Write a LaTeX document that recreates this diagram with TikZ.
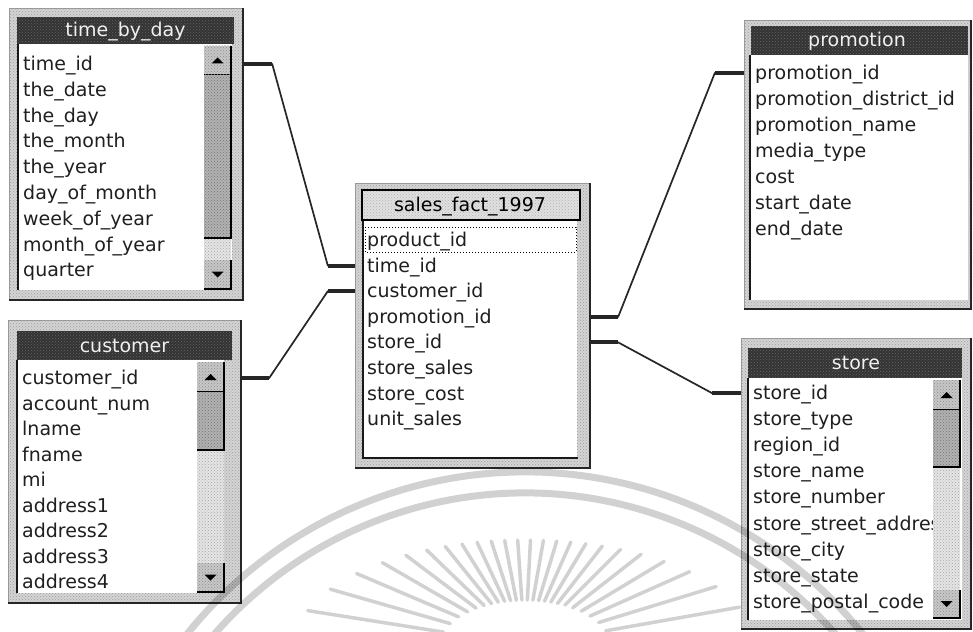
\documentclass[tikz,border=0pt]{standalone}
\usepackage{fontspec}
\setmainfont{DejaVu Sans}
\usetikzlibrary{patterns,fit,calc}
\newcommand\WinBox[5]{%
  \fill[black!17] (#2,#3) rectangle (#4,#5);
  \fill[pattern=crosshatch dots, pattern color=black!38] (#2,#3) rectangle (#4,#5);
  \draw[black!40, line width=0.8pt] (#4,#3) -- (#2,#3) -- (#2,#5);
  \draw[black!85, line width=1.6pt] (#2,#5) -- (#4,#5) -- (#4,#3);
  \node[fit={(#2,#3)(#4,#5)}, inner sep=0pt] (#1) {};}
\newcommand\DarkBar[4]{%
  \fill[black!80] (#1,#2) rectangle (#3,#4);
  \fill[pattern=crosshatch dots, pattern color=black!60] (#1,#2) rectangle (#3,#4);}
\newcommand\ListArea[4]{%
  \fill[white] (#1,#2) rectangle (#3,#4);
  \draw[black!90, line width=2pt] (#1,#4) -- (#1,#2);}
\newcommand\SBar[7]{%
  \fill[black!10] (#1,#3) rectangle (#2,#7);
  \fill[pattern=crosshatch dots, pattern color=black!35] (#1,#3) rectangle (#2,#7);
  % up button
  \fill[black!22] (#1,#3) rectangle (#2,#4);
  \fill[pattern=crosshatch dots, pattern color=black!45] (#1,#3) rectangle (#2,#4);
  \draw[black, line width=1.4pt] (#1,#4) -- (#2,#4) -- (#2,#3);
  \fill[black] ({(#1+#2)/2-6},{(#3+#4)/2+3}) -- ({(#1+#2)/2+6},{(#3+#4)/2+3}) -- ({(#1+#2)/2},{(#3+#4)/2-3}) -- cycle;
  % thumb
  \fill[black!30] (#1,#4) rectangle (#2,#5);
  \fill[pattern=crosshatch dots, pattern color=black!55] (#1,#4) rectangle (#2,#5);
  \draw[black, line width=1.4pt] (#1,#5) -- (#2,#5) -- (#2,#4);
  % down button
  \fill[black!22] (#1,#6) rectangle (#2,#7);
  \fill[pattern=crosshatch dots, pattern color=black!45] (#1,#6) rectangle (#2,#7);
  \draw[black, line width=1.4pt] (#1,#7) -- (#2,#7) -- (#2,#6);
  \fill[black] ({(#1+#2)/2-6},{(#6+#7)/2-3}) -- ({(#1+#2)/2+6},{(#6+#7)/2-3}) -- ({(#1+#2)/2},{(#6+#7)/2+3}) -- cycle;}
\begin{document}
\begin{tikzpicture}[x=1pt,y=-1pt,
  rowtxt/.style={anchor=west, inner sep=0pt, text height=13pt, text depth=0pt,
    font=\fontsize{19}{22}\selectfont, text=black!88},
  ttltxt/.style={inner sep=0pt, text height=13pt, text depth=0pt,
    font=\fontsize{19}{22}\selectfont, text=black!6},
  conn/.style={draw=black!85, line width=1.7pt, line join=round},
  stub/.style={draw=black!85, line width=4pt},
  wm/.style={draw=black, line width=7pt}]
\useasboundingbox (0,0) rectangle (973,631);
\fill[white] (0,0) rectangle (973,631);

% ---------- time_by_day ----------
\WinBox{tbd}{9}{8}{243}{300}
\DarkBar{17}{17}{234}{44}
\node[ttltxt] (tbdT) at (125.5,30.5) {time\_by\_day};
\ListArea{18}{44}{232}{290}
\foreach \t [count=\i] in {time\_id,the\_date,the\_day,the\_month,the\_year,day\_of\_month,week\_of\_year,month\_of\_year,quarter}
  \node[rowtxt] (tbd\i) at (23,{64+25.8*(\i-1)}) {\t};
\SBar{204}{231}{46}{75}{238}{260}{289}

% ---------- customer ----------
\WinBox{cust}{8}{320}{241}{603}
\DarkBar{17}{331}{232}{360}
\node[ttltxt] (custT) at (124.5,346) {customer};
\ListArea{17}{360}{224}{593}
\foreach \t [count=\i] in {customer\_id,account\_num,lname,fname,mi,address1,address2,address3,address4}
  \node[rowtxt] (cust\i) at (22,{378+25.5*(\i-1)}) {\t};
\SBar{197}{224}{362}{392}{450}{563}{592}

% ---------- sales_fact_1997 ----------
\WinBox{sf}{355}{183}{590}{468}
\fill[black!12] (363,191) rectangle (579,219);
\fill[pattern=crosshatch dots, pattern color=black!30] (363,191) rectangle (579,219);
\draw[black, line width=1.6pt] (362,190) rectangle (580,220);
\node[ttltxt, text=black] (sfT) at (470,205) {sales\_fact\_1997};
\fill[white] (363,221) rectangle (577,458);
\draw[black!90, line width=2pt] (363,221) -- (363,458) -- (578,458);
\draw[black, dotted, line width=1pt] (365,227) rectangle (576,252);
\foreach \t [count=\i] in {product\_id,time\_id,customer\_id,promotion\_id,store\_id,store\_sales,store\_cost,unit\_sales}
  \node[rowtxt] (sf\i) at (367,{240+25.6*(\i-1)}) {\t};

% ---------- promotion ----------
\WinBox{promo}{744}{20}{971}{309}
\DarkBar{751}{26}{968}{55}
\node[ttltxt] (promoT) at (857,40.5) {promotion};
\ListArea{750}{55}{968}{300}
\foreach \t [count=\i] in {promotion\_id,promotion\_district\_id,promotion\_name,media\_type,cost,start\_date,end\_date}
  \node[rowtxt] (promo\i) at (755,{73+26*(\i-1)}) {\t};

% ---------- store ----------
\WinBox{store}{741}{338}{971}{629}
\DarkBar{748}{348}{962}{378}
\node[ttltxt] (storeT) at (856,363) {store};
\ListArea{748}{378}{962}{620}
\foreach \t [count=\i] in {store\_id,store\_type,region\_id,store\_name,store\_number,store\_street\_address,store\_city,store\_state,store\_postal\_code}
  \node[rowtxt] (store\i) at (753,{393+26.1*(\i-1)}) {\t};
\fill[white] (960,380) rectangle (962,618);
\SBar{933}{960}{380}{410}{467}{590}{618}
\fill[black!17] (962,378) rectangle (969,622);
\fill[pattern=crosshatch dots, pattern color=black!38] (962,378) rectangle (969,622);

% ---------- connectors ----------
\draw[conn] (tbd.east |- tbd1) -- ++(29,0) -- ($(sf.west |- sf2)+(-27,0)$) -- (sf.west |- sf2);
\draw[stub] (tbd.east |- tbd1) -- ++(29,0);
\draw[stub] ($(sf.west |- sf2)+(-27,0)$) -- (sf.west |- sf2);

\draw[conn] (cust.east |- cust1) -- ++(28,0) -- ($(sf.west |- sf3)+(-27,0)$) -- (sf.west |- sf3);
\draw[stub] (cust.east |- cust1) -- ++(28,0);
\draw[stub] ($(sf.west |- sf3)+(-27,0)$) -- (sf.west |- sf3);

\draw[conn] (sf.east |- sf4) -- ++(28,0) -- ($(promo.west |- promo1)+(-29,0)$) -- (promo.west |- promo1);
\draw[stub] (sf.east |- sf4) -- ++(28,0);
\draw[stub] ($(promo.west |- promo1)+(-29,0)$) -- (promo.west |- promo1);

\draw[conn] (sf.east |- sf5) -- ++(28,0) -- ($(store.west |- store1)+(-29,0)$) -- (store.west |- store1);
\draw[stub] (sf.east |- sf5) -- ++(28,0);
\draw[stub] ($(store.west |- store1)+(-29,0)$) -- (store.west |- store1);

% ---------- watermark ----------
\begin{scope}[opacity=0.18]
  \clip (0,0) rectangle (973,631);
  \draw[wm] (525,905) ++(200:433) arc[start angle=200, end angle=340, radius=433];
  \draw[wm] (525,905) ++(200:412) arc[start angle=200, end angle=340, radius=412];
  \foreach \p in {10,17,...,171} {
    \pgfmathsetmacro\ro{241.5/sqrt((1.05*cos(\p))^2+(2.3*sin(\p))^2)}
    \pgfmathsetmacro\ri{38.25/sqrt((0.45*cos(\p))^2+(0.85*sin(\p))^2)}
    \draw[black, line width=3.5pt, line cap=round] (525,645) ++(-\p:\ri) -- ++(-\p:{\ro-\ri});
  }
\end{scope}
\end{tikzpicture}
\end{document}
